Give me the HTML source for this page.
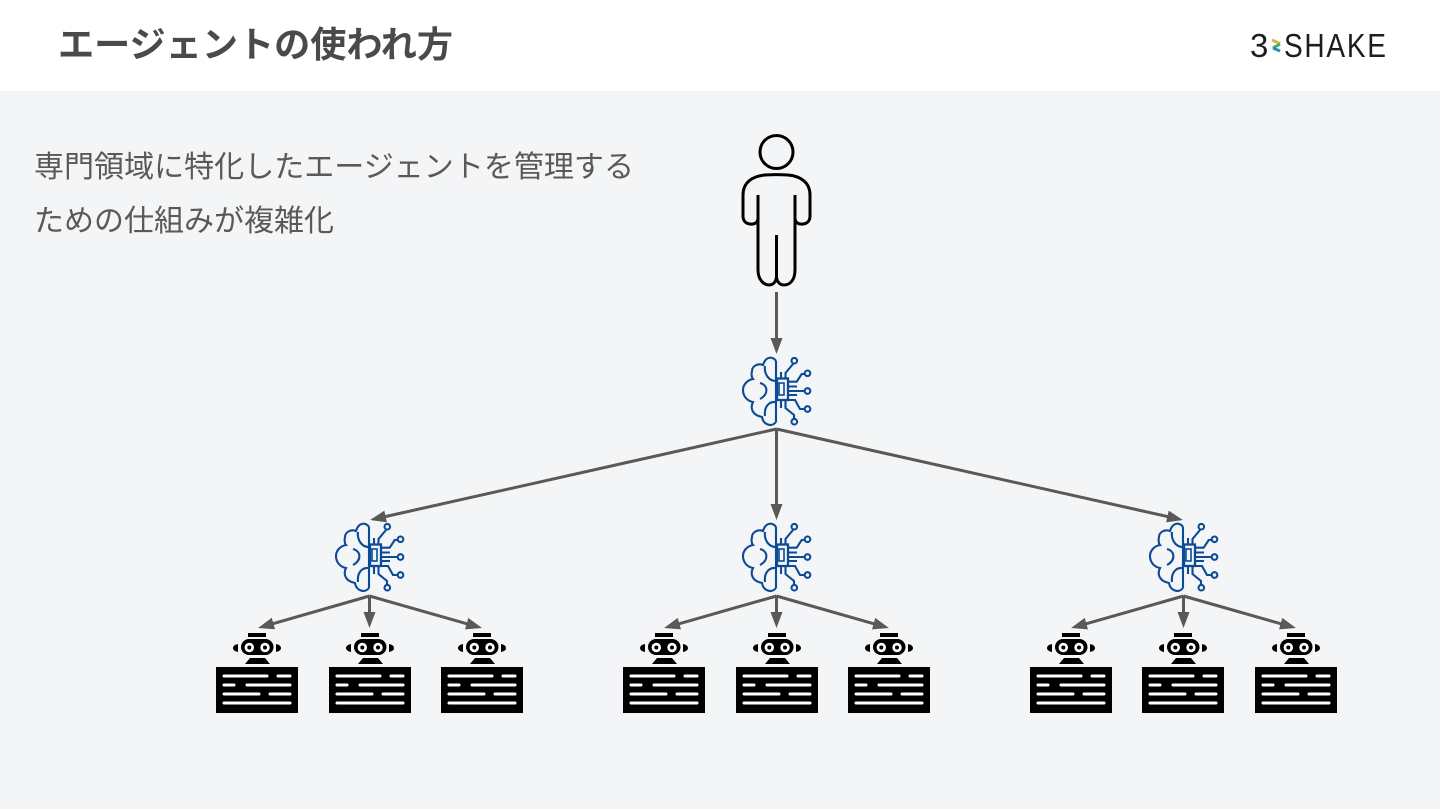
<!DOCTYPE html>
<html lang="ja">
<head>
<meta charset="utf-8">
<style>
html,body{margin:0;padding:0;background:#fff}
svg{display:block}
text{font-family:"Liberation Sans","Noto Sans CJK JP",sans-serif}
</style>
</head>
<body>
<svg width="1440" height="810" viewBox="0 0 1440 810" xmlns="http://www.w3.org/2000/svg">
<defs>
<marker id="ah" markerUnits="userSpaceOnUse" markerWidth="16" markerHeight="12" refX="10" refY="6" orient="auto">
<path d="M0 0L16 6L0 12z" fill="#595959"/>
</marker>
<g id="brain" fill="none" stroke="#0b4a96" stroke-width="2.100">
<path d="M776 361C774 357 766 355 763 365C758 363 752 366 752 371C751 375 752 378 753 379C747 380 743 385 743 390C743 396 747 401 753 402C750 408 752 415 762 417C763 424 771 428 776 422"/>
<path d="M765 366C764 373 768 381 776 381M760 383C768 385 769 394 760 399M776 402C768 401 764 408 765 416M776 361V422"/>
<rect x="777" y="378.500" width="11" height="21.500" stroke-width="2.300"/>
<rect x="779" y="383" width="5" height="12" stroke-width="1.600"/>
<path d="M781 378V372M785.500 378V373L793 364"/>
<circle cx="794.300" cy="360.700" r="2.800"/>
<path d="M788 381.700H796.700L801.700 374H805"/><circle cx="807.500" cy="373.300" r="2.800"/>
<path d="M788 386.500H797M788 391H804.500M788 395H797"/><circle cx="807.500" cy="391" r="2.800"/>
<path d="M788 400H795L800 409H804.500"/><circle cx="807.500" cy="409" r="2.800"/>
<path d="M781 400V408M785.500 400V408L794 415V419"/><circle cx="794.300" cy="421.700" r="2.800"/>
</g>
<g id="bot">
<rect x="248" y="633" width="18" height="4" fill="#000"/>
<rect x="241" y="639" width="32.500" height="16" rx="8" fill="#000"/>
<circle cx="249.300" cy="647.500" r="4.700" fill="#fff"/><circle cx="265" cy="647.500" r="4.700" fill="#fff"/>
<circle cx="249.300" cy="647.500" r="2" fill="#000"/><circle cx="265" cy="647.500" r="2" fill="#000"/>
<path d="M238 644V652Q233 651 233 648Q233 645 238 644zM276 644V652Q281 651 281 648Q281 645 276 644z" fill="#000"/>
<path d="M250 658H265L270 664H245z" fill="#000"/>
<rect x="216" y="667" width="82" height="46" fill="#000"/>
<g stroke="#fff" stroke-width="3" stroke-linecap="round">
<path d="M224 676H267M278 676H290M224 685H234M247 685H290M224 694H259M270 694H290M224 703H290"/>
</g>
</g>
</defs>

<rect x="0" y="0" width="1440" height="91" fill="#fff"/>
<rect x="0" y="91" width="1440" height="718" fill="#f4f5f7"/>

<text x="58" y="57" font-size="35.600" font-weight="700" fill="#4a4a4a" textLength="395" lengthAdjust="spacingAndGlyphs">エージェントの使われ方</text>
<text x="34" y="177" font-size="30" fill="#595959" textLength="600" lengthAdjust="spacingAndGlyphs">専門領域に特化したエージェントを管理する</text>
<text x="34" y="231" font-size="30" fill="#595959" textLength="300" lengthAdjust="spacingAndGlyphs">ための仕組みが複雑化</text>

<text transform="translate(1250 57)" x="0" y="0" font-size="33" fill="#1d1d1d">3</text>
<path d="M1272 40L1280 43.500" fill="none" stroke="#e0b33c" stroke-width="3"/>
<path d="M1280 44L1273 48" fill="none" stroke="#3fae6a" stroke-width="3"/>
<path d="M1273 48L1280 51" fill="none" stroke="#2a8fb5" stroke-width="3"/>
<text transform="translate(1284 57) scale(0.85 1)" x="0" y="0" font-size="33" fill="#1d1d1d" textLength="120" lengthAdjust="spacing">SHAKE</text>

<g fill="none" stroke="#000" stroke-width="3">
<circle cx="776.500" cy="152" r="16.500"/>
<path d="M758 195V218C758 223 754 224.500 750 224C745 223.500 743 220 743 216V195C743 182 753 176 765 175C772 174.500 781 174.500 788 175C800 176 810 182 810 195V216C810 220 808 223.500 803 224C799 224.500 795 223 795 218V195"/>
<path d="M758 195V270C758 280 764 285 769 285C773 285 776 282 776.500 277C777 282 780 285 784 285C790 285 795 280 795 270V195"/>
<path d="M776.500 235V277"/>
</g>

<g stroke="#595959" stroke-width="3" fill="none">
<path d="M776.500 292V348" marker-end="url(#ah)"/>
<path d="M776.500 429L375.900 518.700" marker-end="url(#ah)"/>
<path d="M776.500 429V514" marker-end="url(#ah)"/>
<path d="M776.500 429L1177.100 518.700" marker-end="url(#ah)"/>
<path d="M369.500 596L263.800 626.300" marker-end="url(#ah)"/>
<path d="M369.500 596V622" marker-end="url(#ah)"/>
<path d="M369.500 596L476.200 626.400" marker-end="url(#ah)"/>
<path d="M776.500 596L669.800 626.400" marker-end="url(#ah)"/>
<path d="M776.500 596V622" marker-end="url(#ah)"/>
<path d="M776.500 596L883.200 626.400" marker-end="url(#ah)"/>
<path d="M1183.500 596L1076.800 626.400" marker-end="url(#ah)"/>
<path d="M1183.500 596V622" marker-end="url(#ah)"/>
<path d="M1183.500 596L1290.200 626.400" marker-end="url(#ah)"/>
</g>

<use href="#brain"/>
<use href="#brain" transform="translate(-407 166)"/>
<use href="#brain" transform="translate(0 166)"/>
<use href="#brain" transform="translate(407 166)"/>

<use href="#bot"/>
<use href="#bot" transform="translate(113 0)"/>
<use href="#bot" transform="translate(225 0)"/>
<use href="#bot" transform="translate(407 0)"/>
<use href="#bot" transform="translate(520 0)"/>
<use href="#bot" transform="translate(632 0)"/>
<use href="#bot" transform="translate(814 0)"/>
<use href="#bot" transform="translate(926 0)"/>
<use href="#bot" transform="translate(1039 0)"/>
</svg>
</body>
</html>
